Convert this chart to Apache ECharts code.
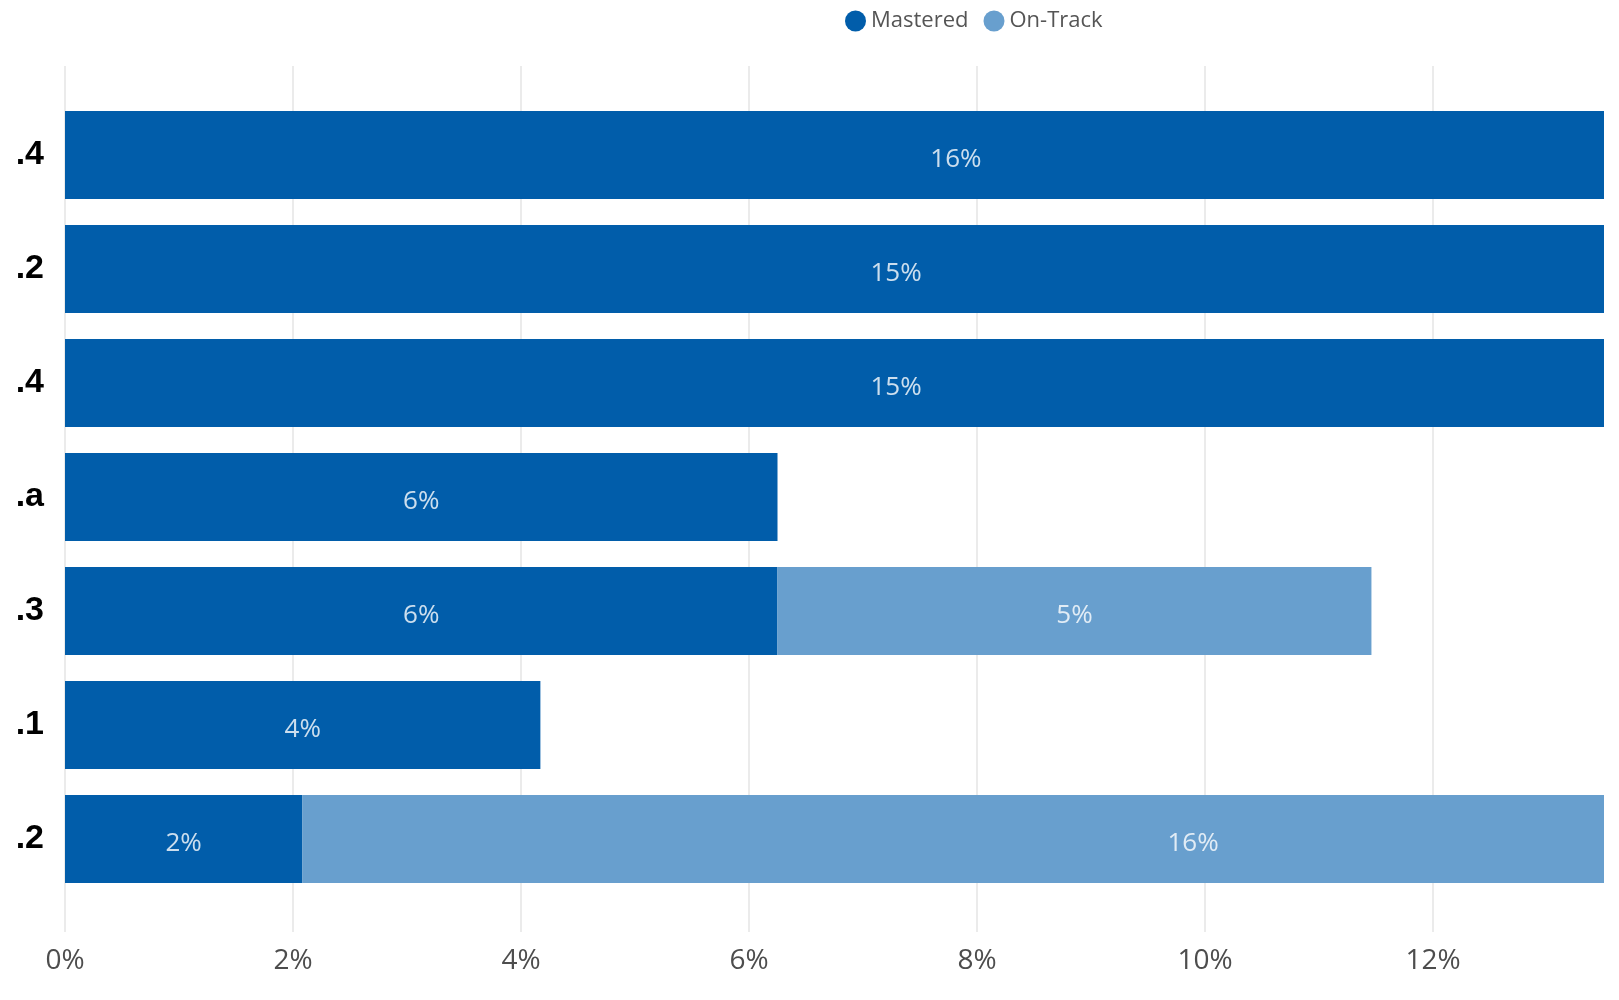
<!DOCTYPE html>
<html>
<head>
<meta charset="utf-8">
<script src="https://cdn.jsdelivr.net/npm/echarts@6/dist/echarts.min.js"></script>
<style>
html,body{margin:0;padding:0;background:#fff;}
#chart{width:1619px;height:1000px;}
</style>
</head>
<body>
<div id="chart"></div>
<script>
const categories = ['.4', '.2', '.4', '.a', '.3', '.1', '.2'];
const mastered = [15.63, 14.58, 14.58, 6.25, 6.25, 4.17, 2.08];
const onTrack = [null, null, null, null, 5.21, null, 15.63];
const seriesNames = ['Mastered', 'On-Track'];
const axisMax = 13.5;
const axisInterval = 2;

const labelData = [];
categories.forEach(function (c, i) {
  if (mastered[i] != null) labelData.push([mastered[i] / 2, i, mastered[i]]);
  if (onTrack[i] != null) labelData.push([(mastered[i] || 0) + onTrack[i] / 2, i, onTrack[i]]);
});

const gridColors = ['#ebebeb', '#ebebeb', '#ebebeb', '#ebebeb', '#ebebeb', '#ebebeb', '#ebebeb', 'rgba(0,0,0,0)'];

const chart = echarts.init(document.getElementById('chart'), null, {renderer: 'canvas'});
chart.setOption({
  animation: false,
  backgroundColor: '#ffffff',
  legend: {
    data: seriesNames,
    icon: 'circle',
    itemWidth: 21,
    itemHeight: 21,
    itemGap: 15,
    left: 840,
    top: 5,
    textStyle: {fontFamily: 'Open Sans', fontSize: 22, color: '#555555'}
  },
  grid: [
    {left: 65, right: 15, top: 66, bottom: 68},
    {left: 65, right: 15, top: 98, bottom: 104}
  ],
  xAxis: [
    {
      type: 'value', gridIndex: 0, min: 0, max: axisMax, interval: axisInterval,
      axisLine: {show: false}, axisTick: {show: false},
      axisLabel: {formatter: '{value}%', showMaxLabel: false, margin: 15,
        fontFamily: 'Open Sans', fontSize: 28, color: '#4d4d4d'},
      splitLine: {show: true, lineStyle: {color: gridColors, width: 2}}
    },
    {
      type: 'value', gridIndex: 1, min: 0, max: axisMax, interval: axisInterval,
      show: false, splitLine: {show: false}
    }
  ],
  yAxis: [
    {type: 'category', gridIndex: 0, data: categories, show: false},
    {
      type: 'category', gridIndex: 1, data: categories, inverse: true,
      axisLine: {show: false}, axisTick: {show: false}, splitLine: {show: false},
      axisLabel: {margin: 21, padding: [7, 0, 0, 0], fontFamily: 'Liberation Sans', fontWeight: 'bold', fontSize: 34, color: '#000000'}
    }
  ],
  series: [
    {
      name: seriesNames[0], type: 'bar', stack: 'total', xAxisIndex: 1, yAxisIndex: 1,
      data: mastered, barCategoryGap: '23%',
      itemStyle: {color: '#015DAA'}
    },
    {
      name: seriesNames[1], type: 'bar', stack: 'total', xAxisIndex: 1, yAxisIndex: 1,
      data: onTrack, barCategoryGap: '23%',
      itemStyle: {color: '#689FCE'}
    },
    {
      name: 'labels', type: 'scatter', xAxisIndex: 1, yAxisIndex: 1, z: 5,
      symbolSize: 1, silent: true,
      itemStyle: {color: 'rgba(0,0,0,0)'},
      data: labelData,
      label: {
        show: true, position: 'inside', color: '#ffffff', offset: [0, 5],
        fontFamily: 'Open Sans', fontSize: 26,
        formatter: function (p) { return Math.round(p.value[2]) + '%'; }
      }
    }
  ]
});
</script>
</body>
</html>
